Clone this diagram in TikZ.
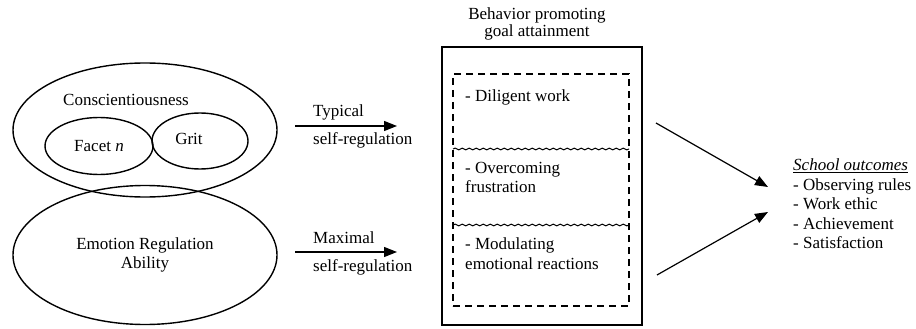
\documentclass[tikz,border=0pt]{standalone}
\usepackage{fontspec}
\setmainfont{Liberation Serif}
\usetikzlibrary{shapes.geometric, arrows.meta, decorations.pathmorphing, positioning}

\begin{document}
\begin{tikzpicture}[x=1pt, y=-1pt,
  oval/.style={ellipse, draw, line width=1.4pt, inner sep=0pt},
  txt/.style={font=\fontsize{17}{19.5}\selectfont, inner sep=0pt},
  flow/.style={line width=1.2pt, -{Triangle[length=13pt,width=10pt]}},
  wavy/.style={decorate, decoration={snake, amplitude=0.9pt, segment length=7pt}}]

  \useasboundingbox (0,0) rectangle (916,329);

  % left side: traits
  \node[oval, minimum width=264pt, minimum height=134pt] (consc) at (145,130) {};
  \node[oval, minimum width=264pt, minimum height=139pt, txt, align=center] (emo) at (145,255) {Emotion Regulation\\Ability};
  \node[oval, minimum width=108pt, minimum height=57pt, txt] (facet) at (99,146) {Facet \textit{n}};
  \node[oval, minimum width=96pt, minimum height=56pt] (grit) at (200,141) {};
  \node[txt] (consclbl) at (126,100) {Conscientiousness};
  \node[txt] (gritlbl) at (189,139) {Grit};

  % middle: behavior box
  \node[txt, align=center, font=\fontsize{17}{17.5}\selectfont] (head) at (537,24) {Behavior promoting\\goal attainment};
  \node[draw, line width=1.3pt, minimum width=200pt, minimum height=278pt] (outer) at (542,186) {};
  \node[draw, dashed, dash pattern=on 7pt off 5pt, line width=1.2pt, minimum width=176pt, minimum height=232pt] (inner) at (541,190) {};
  \draw[wavy, line width=1pt] (453,149) -- (629,149);
  \draw[wavy, line width=1pt] (453,225) -- (629,225);
  \node[txt, anchor=west] (dil) at (465,97) {- Diligent work};
  \node[txt, anchor=north west, align=left] (frus) at (465,162) {- Overcoming\\frustration};
  \node[txt, anchor=north west, align=left] (modu) at (465,238) {- Modulating\\emotional reactions};

  % arrows in
  \coordinate (t1) at (295,126);
  \coordinate (t2) at (397,126);
  \coordinate (m1) at (295,252);
  \coordinate (m2) at (397,252);
  \draw[flow] (t1) -- (t2);
  \draw[flow] (m1) -- (m2);
  \node[txt, anchor=west] (typ) at (313,112) {Typical};
  \node[txt, anchor=west] (typsr) at (313,140) {self-regulation};
  \node[txt, anchor=west] (max) at (313,238) {Maximal};
  \node[txt, anchor=west] (maxsr) at (313,267) {self-regulation};

  % right side: outcomes
  \coordinate (o1) at (656,123);
  \coordinate (o2) at (768,187);
  \coordinate (o3) at (657,275);
  \coordinate (o4) at (768,212);
  \draw[flow] (o1) -- (o2);
  \draw[flow] (o3) -- (o4);
  \node[txt, anchor=north west, align=left] (school) at (793,159)
    {\underline{\textit{School outcomes}}\\- Observing rules\\- Work ethic\\- Achievement\\- Satisfaction};
\end{tikzpicture}
\end{document}
